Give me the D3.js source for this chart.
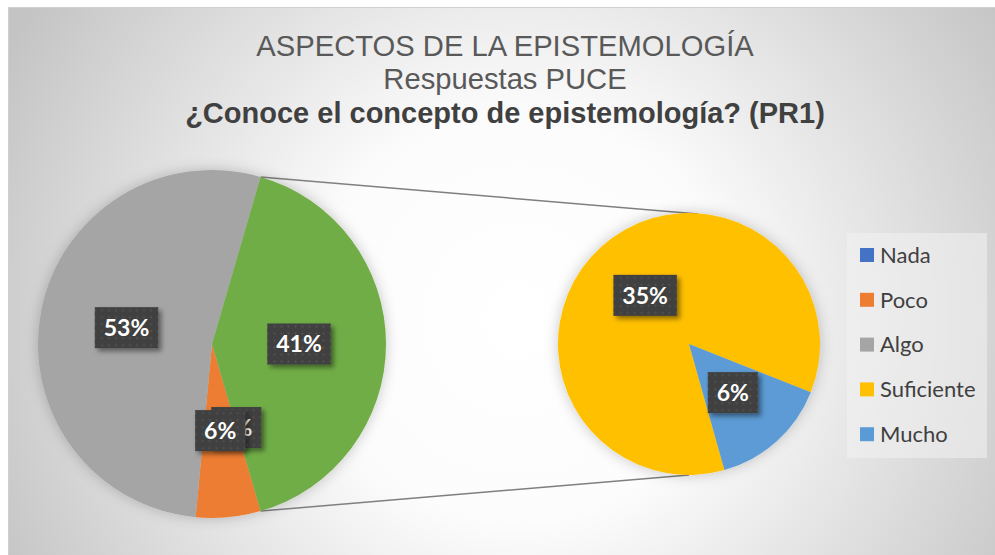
<!DOCTYPE html>
<html>
<head>
<meta charset="utf-8">
<script src="https://cdnjs.cloudflare.com/ajax/libs/d3/7.8.5/d3.min.js"></script>
<style>
  body { margin: 0; background: #fff; }
  svg { display: block; }
</style>
</head>
<body>
<div id="chart"></div>
<script>
// data (percent)
var categories = ["Nada", "Poco", "Algo", "Suficiente", "Mucho"];
var values = [0, 6, 53, 35, 6];
var colors = ["#4472C4", "#ED7D31", "#A5A5A5", "#FFC000", "#5B9BD5"];
var otherColor = "#70AD47";
var secondCount = 2; // last two points go to the second pie
var titleLines = ["ASPECTOS DE LA EPISTEMOLOGÍA", "Respuestas PUCE", "¿Conoce el concepto de epistemología? (PR1)"];

var width = 995, height = 555;
var deg = Math.PI / 180;

var svg = d3.select("#chart").append("svg")
    .attr("width", width)
    .attr("height", height);

var defs = svg.append("defs");

var bg = defs.append("radialGradient")
    .attr("id", "bg")
    .attr("gradientUnits", "userSpaceOnUse")
    .attr("cx", 520).attr("cy", 320).attr("r", 580);
bg.append("stop").attr("offset", "0").attr("stop-color", "#ffffff");
bg.append("stop").attr("offset", "0.35").attr("stop-color", "#fcfcfc");
bg.append("stop").attr("offset", "1").attr("stop-color", "#c4c4c4");

var dots = defs.append("pattern")
    .attr("id", "dots")
    .attr("patternUnits", "userSpaceOnUse")
    .attr("width", 7).attr("height", 7);
dots.append("rect").attr("width", 7).attr("height", 7).attr("fill", "#404040");
dots.append("circle").attr("cx", 3.5).attr("cy", 3.5).attr("r", 1).attr("fill", "#555555");

var glow = defs.append("filter").attr("id", "glow")
    .attr("x", "-20%").attr("y", "-20%").attr("width", "140%").attr("height", "140%");
glow.append("feDropShadow").attr("dx", 0).attr("dy", 0)
    .attr("stdDeviation", 7).attr("flood-color", "#000").attr("flood-opacity", 0.22);

var shadow = defs.append("filter").attr("id", "shadow")
    .attr("x", "-30%").attr("y", "-30%").attr("width", "170%").attr("height", "170%");
shadow.append("feDropShadow").attr("dx", 3).attr("dy", 3)
    .attr("stdDeviation", 2.5).attr("flood-color", "#000").attr("flood-opacity", 0.45);

// chart area
svg.append("rect")
    .attr("x", 8.5).attr("y", 7.5)
    .attr("width", width).attr("height", height)
    .attr("fill", "url(#bg)")
    .attr("stroke", "#cfcfcf");

// title
var title = svg.append("g").attr("class", "title");
title.append("text")
    .attr("x", 505).attr("y", 56)
    .attr("text-anchor", "middle")
    .attr("font-family", "Liberation Sans, Arial, sans-serif")
    .attr("font-size", 29.2)
    .attr("fill", "#595959")
    .text(titleLines[0]);
title.append("text")
    .attr("x", 505).attr("y", 89)
    .attr("text-anchor", "middle")
    .attr("font-family", "Liberation Sans, Arial, sans-serif")
    .attr("font-size", 29.2)
    .attr("fill", "#595959")
    .text(titleLines[1]);
title.append("text")
    .attr("x", 505).attr("y", 123)
    .attr("text-anchor", "middle")
    .attr("font-family", "Liberation Sans, Arial, sans-serif")
    .attr("font-size", 29)
    .attr("font-weight", "bold")
    .attr("fill", "#404040")
    .text(titleLines[2]);

// build data for the two pies
var points = categories.map(function (c, i) { return {name: c, value: values[i], color: colors[i]}; });
var firstPoints = points.slice(0, points.length - secondCount);
var secondPoints = points.slice(points.length - secondCount);
var otherValue = d3.sum(secondPoints, function (d) { return d.value; });
var mainData = firstPoints.concat([{name: "Otro", value: otherValue, color: otherColor, other: true}]);
var total = d3.sum(mainData, function (d) { return d.value; });

var main = {cx: 212, cy: 344, r: 174};
var second = {cx: 689, cy: 344, r: 131};

// "other" slice centred on the right side
var otherSpan = otherValue / total * 2 * Math.PI;
var mainStart = Math.PI / 2 + otherSpan / 2;
var mainPie = d3.pie().sort(null).value(function (d) { return d.value; })
    .startAngle(mainStart).endAngle(mainStart + 2 * Math.PI);
var secondStart = 164.3 * deg;
var secondPie = d3.pie().sort(null).value(function (d) { return d.value; })
    .startAngle(secondStart).endAngle(secondStart + 2 * Math.PI);

var mainArc = d3.arc().innerRadius(0).outerRadius(main.r);
var secondArc = d3.arc().innerRadius(0).outerRadius(second.r);

var mainArcs = mainPie(mainData);
var secondArcs = secondPie(secondPoints);

// connector lines
var oth = mainArcs.filter(function (d) { return d.data.other; })[0];
var connectors = [
  [main.cx + main.r * Math.sin(oth.startAngle), main.cy - main.r * Math.cos(oth.startAngle), second.cx + 9, second.cy - second.r + 1],
  [main.cx + main.r * Math.sin(oth.endAngle), main.cy - main.r * Math.cos(oth.endAngle), second.cx, second.cy + second.r]
];
svg.append("g").attr("class", "connectors")
  .selectAll("line")
  .data(connectors)
  .enter().append("line")
    .attr("x1", function (d) { return d[0]; })
    .attr("y1", function (d) { return d[1]; })
    .attr("x2", function (d) { return d[2]; })
    .attr("y2", function (d) { return d[3]; })
    .attr("stroke", "#7f7f7f")
    .attr("stroke-width", 1.5);

var g1 = svg.append("g")
    .attr("transform", "translate(" + main.cx + "," + main.cy + ")")
    .attr("filter", "url(#glow)");
g1.selectAll("path")
    .data(mainArcs)
  .enter().append("path")
    .attr("d", mainArc)
    .attr("fill", function (d) { return d.data.color; });

var g2 = svg.append("g")
    .attr("transform", "translate(" + second.cx + "," + second.cy + ")")
    .attr("filter", "url(#glow)");
g2.selectAll("path")
    .data(secondArcs)
  .enter().append("path")
    .attr("d", secondArc)
    .attr("fill", function (d) { return d.data.color; });

// data labels
function addLabels(group, arcs, arc) {
  arcs.forEach(function (d) {
    var c = arc.centroid(d);
    var lab = group.append("g")
        .attr("transform", "translate(" + c[0] + "," + c[1] + ")");
    var box = lab.append("rect")
        .attr("fill", "url(#dots)")
        .attr("filter", "url(#shadow)");
    var t = lab.append("text")
        .attr("text-anchor", "middle")
        .attr("dy", "0.36em")
        .attr("font-family", "Lato, Carlito, sans-serif")
        .attr("font-weight", "bold")
        .attr("font-size", 23)
        .attr("fill", "#ffffff")
        .text(Math.round(d.value / total * 100) + "%");
    var w = t.node().getComputedTextLength() + 18;
    box.attr("x", -w / 2).attr("y", -20.5).attr("width", w).attr("height", 41);
  });
}
var labels1 = svg.append("g").attr("transform", "translate(" + main.cx + "," + main.cy + ")");
addLabels(labels1, mainArcs, mainArc);
var labels2 = svg.append("g").attr("transform", "translate(" + second.cx + "," + second.cy + ")");
addLabels(labels2, secondArcs, secondArc);

// legend
var legend = svg.append("g").attr("class", "legend");
legend.append("rect")
    .attr("x", 847).attr("y", 233)
    .attr("width", 140).attr("height", 225)
    .attr("fill", "#f2f2f2")
    .attr("fill-opacity", 0.55);
var item = legend.selectAll("g.item")
    .data(points)
  .enter().append("g")
    .attr("class", "item")
    .attr("transform", function (d, i) { return "translate(860," + (255 + i * 44.8) + ")"; });
item.append("rect")
    .attr("x", 0).attr("y", -7)
    .attr("width", 14).attr("height", 14)
    .attr("fill", function (d) { return d.color; });
item.append("text")
    .attr("x", 20).attr("y", 0)
    .attr("dy", "0.35em")
    .attr("font-family", "Lato, Carlito, sans-serif")
    .attr("font-size", 22)
    .attr("fill", "#404040")
    .text(function (d) { return d.name; });
</script>
</body>
</html>
